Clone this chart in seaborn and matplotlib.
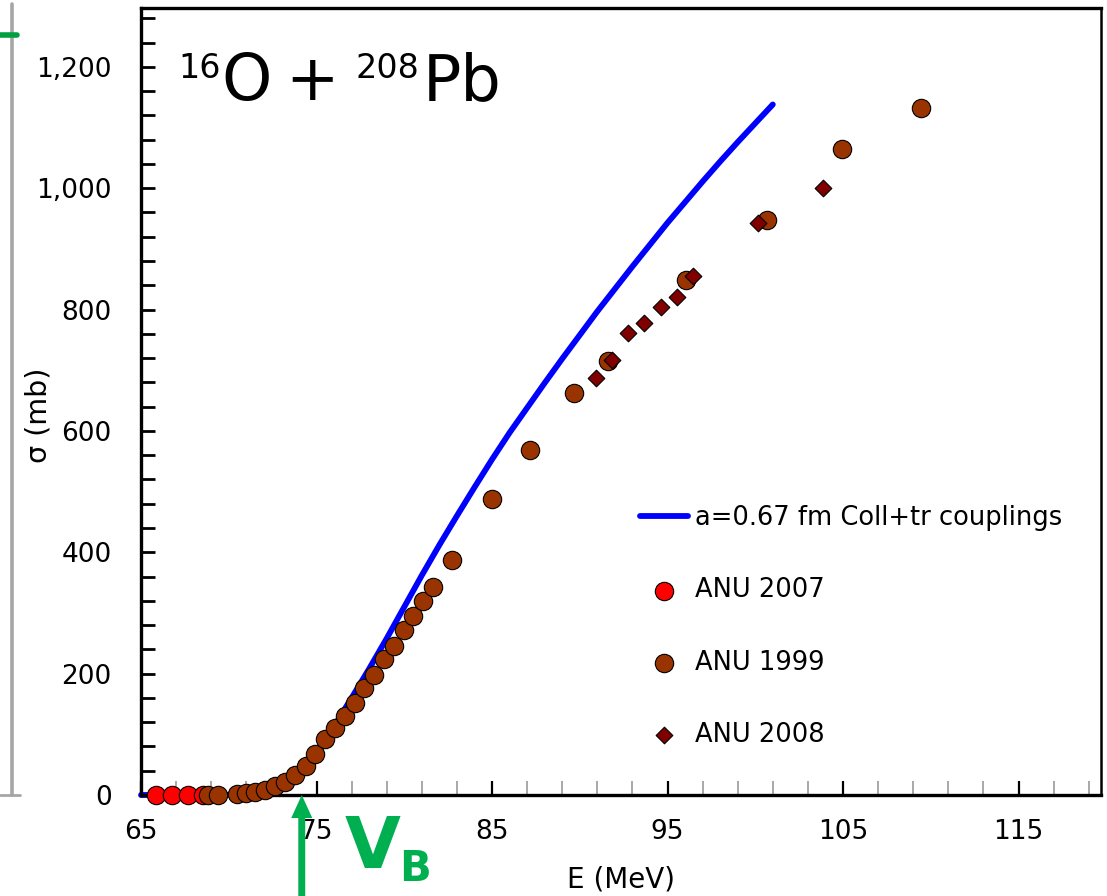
import matplotlib
matplotlib.use("Agg")
import matplotlib.pyplot as plt
import seaborn as sns
from matplotlib.ticker import MultipleLocator, FuncFormatter
from matplotlib.lines import Line2D

# Coupled-channels calculation (a = 0.67 fm, collective + transfer couplings)
E_calc = [65, 69, 70, 71, 72, 73, 74, 75, 76, 77, 78, 79, 80, 81, 82, 83, 84,
          85, 86, 87, 88, 89, 90, 91, 92, 93, 94, 95, 96, 97, 98, 99, 100, 101]
sigma_calc = [0, 0, 0.3, 1, 4, 14, 35, 70, 113, 160, 208, 258, 310, 362, 412,
              460, 507, 553, 597, 638, 679, 719, 758, 797, 834, 871, 907, 943,
              977, 1011, 1044, 1076, 1107, 1138]

# Measured fusion cross sections
E_anu2007 = [65.85, 66.77, 67.68, 68.53]
sigma_anu2007 = [0, 0, 0, 0]

E_anu1999 = [68.83, 69.40, 70.45, 70.98, 71.49, 72.06, 72.63, 73.20, 73.77,
             74.38, 74.91, 75.48, 76.05, 76.62, 77.19, 77.72, 78.28, 78.86,
             79.42, 79.97, 80.52, 81.09, 81.62, 82.72, 84.98, 87.17, 89.67,
             91.63, 96.05, 100.65, 104.96, 109.43]
sigma_anu1999 = [0.1, 0.5, 1, 3, 5, 9, 15, 22, 33, 47, 67, 92, 110, 130, 152,
                 176, 198, 224, 246, 272, 295, 319, 343, 388, 487, 569, 662,
                 716, 848, 948, 1065, 1133]

E_anu2008 = [90.91, 91.82, 92.77, 93.68, 94.61, 95.52, 96.47, 100.14, 103.88]
sigma_anu2008 = [687, 717, 761, 778, 805, 821, 856, 943, 1000]

E_barrier = 74.16

sns.set_style("ticks")
plt.rcParams["font.family"] = ["DejaVu Sans"]
plt.rcParams["mathtext.fontset"] = "dejavusans"
plt.rcParams["text.color"] = "black"
plt.rcParams["axes.labelcolor"] = "black"
plt.rcParams["xtick.color"] = "black"
plt.rcParams["ytick.color"] = "black"

W, H = 1107, 896
fig = plt.figure(figsize=(W / 100, H / 100), dpi=100)
fig.patch.set_facecolor("white")
ax = fig.add_axes([141 / W, 1 - 795 / H, 960 / W, 787 / H])
ax.set_facecolor("white")


def px(x, y):
    """Pixel position (from top-left) to figure fraction."""
    return x / W, 1 - y / H


sns.lineplot(x=E_calc, y=sigma_calc, ax=ax, color="#0000FF", lw=4.2,
             solid_capstyle="round", label="a=0.67 fm Coll+tr couplings",
             zorder=2, clip_on=False)
sns.scatterplot(x=E_anu2007, y=sigma_anu2007, ax=ax, marker="o", s=175,
                color="#FF0000", edgecolor="black", linewidth=0.8,
                label="ANU 2007", zorder=3, clip_on=False)
sns.scatterplot(x=E_anu1999, y=sigma_anu1999, ax=ax, marker="o", s=175,
                color="#993300", edgecolor="black", linewidth=0.8,
                label="ANU 1999", zorder=4, clip_on=False)
sns.scatterplot(x=E_anu2008, y=sigma_anu2008, ax=ax, marker="D", s=72,
                color="#800000", edgecolor="black", linewidth=0.8,
                label="ANU 2008", zorder=5, clip_on=False)

ax.set_xlim(65, 119.7)
ax.set_ylim(0, 1297)
ax.set_xlabel("")
ax.set_ylabel("")

ax.xaxis.set_major_locator(MultipleLocator(10, offset=5))
ax.xaxis.set_minor_locator(MultipleLocator(2, offset=1))
ax.yaxis.set_major_locator(MultipleLocator(200))
ax.yaxis.set_minor_locator(MultipleLocator(40))
ax.yaxis.set_major_formatter(FuncFormatter(lambda v, p: f"{v:,.0f}"))

ax.tick_params(axis="x", which="major", direction="in", length=10, width=1.6,
               color="black", pad=17, labelsize=19, labelcolor="black")
ax.tick_params(axis="x", which="minor", direction="in", length=10, width=1.2,
               color="#999999")
ax.tick_params(axis="y", which="both", direction="in", length=10, width=2,
               color="black", pad=21, labelsize=19, labelcolor="black")
ax.tick_params(top=False, right=False, which="both")

for s in ax.spines.values():
    s.set_linewidth(2.4)
    s.set_color("black")
ax.spines["right"].set_linewidth(1.8)

handles, labels = ax.get_legend_handles_labels()
leg = ax.legend(handles, labels, loc="center left",
                bbox_to_anchor=(0.5198, 0.2140), frameon=False, fontsize=18.5,
                handlelength=1.85, handletextpad=0.3, labelspacing=1.8,
                borderaxespad=0, borderpad=0)
for t in leg.get_texts():
    t.set_color("black")

# Reaction label
fig.text(*px(178, 78), "16", fontsize=24, ha="left", va="baseline")
fig.text(*px(221, 100), "O", fontsize=46, ha="left", va="baseline")
fig.text(*px(312, 100), "+", fontsize=46, ha="center", va="baseline")
fig.text(*px(356, 78), "208", fontsize=24, ha="left", va="baseline")
fig.text(*px(423, 100), "Pb", fontsize=46, ha="left", va="baseline")

# Axis titles
fig.text(*px(621, 879), "E (MeV)", fontsize=20, ha="center", va="center")
fig.text(*px(39, 415), "σ (mb)", fontsize=20.5, ha="center", va="center",
         rotation=90)

# Coulomb barrier marker
green = "#00B050"
ax.annotate("", xy=(E_barrier, 0), xycoords="data",
            xytext=(E_barrier, 0), textcoords=("data", "figure fraction"),
            arrowprops=dict(arrowstyle="simple,head_length=0.83,head_width=0.76,tail_width=0.25",
                            mutation_scale=20, color=green, lw=0,
                            shrinkA=0, shrinkB=0),
            annotation_clip=False)
fig.text(*px(345, 868), "V", fontsize=52, fontweight="bold", color=green,
         ha="left", va="baseline")
fig.text(*px(399, 881), "B", fontsize=30, fontweight="bold", color=green,
         ha="left", va="baseline")

# Slide-side guide bar
fig.add_artist(Line2D([12 / W, 12 / W], [1 - 4 / H, 1 - 795 / H],
                      color="#A6A6A6", lw=2.6, transform=fig.transFigure))
fig.add_artist(Line2D([0, 20 / W], [1 - 795 / H, 1 - 795 / H],
                      color="#A6A6A6", lw=2.0, transform=fig.transFigure))
fig.add_artist(Line2D([0, 17 / W], [1 - 35 / H, 1 - 35 / H],
                      color="#00A040", lw=4, transform=fig.transFigure))

fig.savefig("out.png", dpi=100, facecolor="white")
